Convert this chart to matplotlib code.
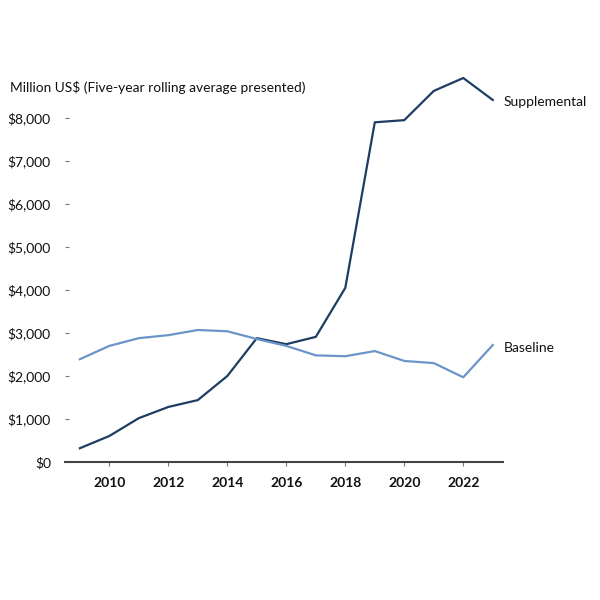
import matplotlib
matplotlib.use("Agg")
import matplotlib.pyplot as plt

years = list(range(2009, 2024))
supplemental = [320, 605, 1020, 1280, 1440, 2000, 2880, 2740, 2910, 4050, 7900, 7950, 8630, 8930, 8420]
baseline = [2390, 2700, 2880, 2950, 3070, 3040, 2860, 2700, 2480, 2460, 2580, 2350, 2300, 1970, 2720]
yticks = [0, 1000, 2000, 3000, 4000, 5000, 6000, 7000, 8000]
xticks = [2010, 2012, 2014, 2016, 2018, 2020, 2022]

plt.rcParams['font.family'] = ['Lato', 'DejaVu Sans']

fig = plt.figure(figsize=(6, 6), dpi=100)
ax = fig.add_axes([0.108, 0.23, 0.73, 0.645])

c_sup = '#1d3d63'
c_base = '#6b95c9'
ax.plot(years, supplemental, color=c_sup, lw=1.6)
ax.plot(years, baseline, color=c_base, lw=1.6)

ax.set_xlim(2008.49, 2023.34)
ax.set_ylim(0, 9000)
ax.set_yticks(yticks)
ax.set_yticklabels(['$0' if v == 0 else f'${v:,}' for v in yticks])
ax.set_xticks(xticks)
ax.set_xticklabels([str(x) for x in xticks], fontweight='bold')

for s in ['top', 'right', 'left']:
    ax.spines[s].set_visible(False)
ax.spines['bottom'].set_color('#444444')
ax.spines['bottom'].set_linewidth(1.5)

ax.tick_params(axis='y', direction='in', length=3, pad=10, color='#777777', labelsize=10, labelcolor='#111111')
ax.tick_params(axis='x', direction='out', length=3, pad=8, color='#777777', labelsize=10, labelcolor='#111111')

ax.text(1.002, 8370, 'Supplemental', transform=ax.get_yaxis_transform(), va='center', ha='left', fontsize=10, color='#111111')
ax.text(1.002, 2650, 'Baseline', transform=ax.get_yaxis_transform(), va='center', ha='left', fontsize=10, color='#111111')

fig.text(10/600, 1 - 87/600, 'Million US$ (Five-year rolling average presented)', va='center', ha='left', fontsize=9.9, color='#111111')

fig.savefig('out.png', dpi=100, facecolor='white')
